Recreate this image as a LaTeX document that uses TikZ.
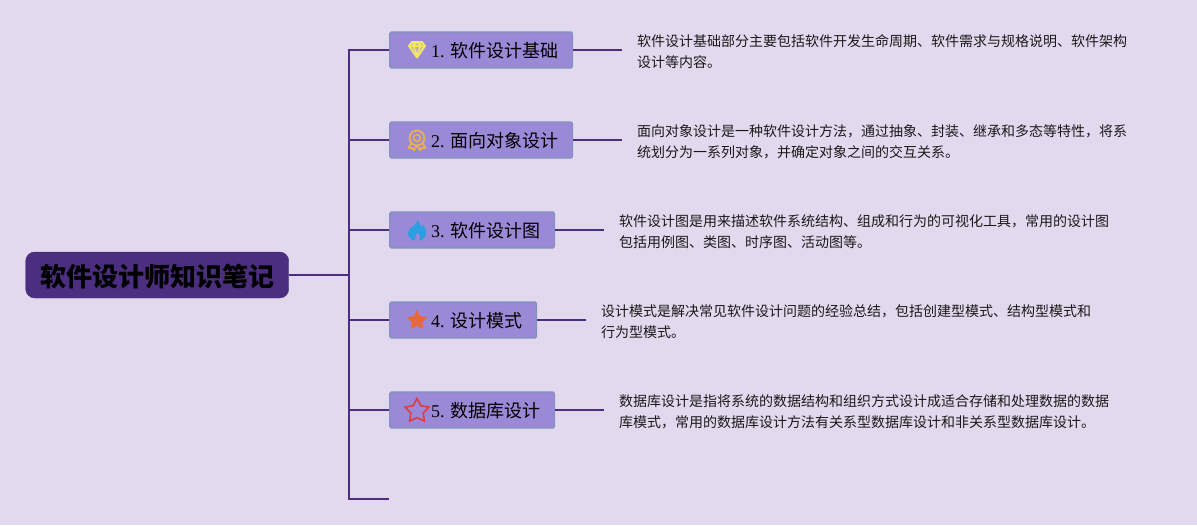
\documentclass[tikz,border=0pt]{standalone}
\usepackage{fontspec}
\setmainfont{Liberation Serif}
\newfontfamily\cjk{Noto Sans CJK SC}
\usetikzlibrary{shapes.geometric}
\definecolor{bgcol}{HTML}{E3D9EE}
\definecolor{linecol}{HTML}{4C2E80}
\definecolor{boxcol}{HTML}{9A89D6}
\definecolor{boxedge}{HTML}{7F93BC}
\definecolor{gemcol}{HTML}{F4E768}
\definecolor{awardcol}{HTML}{E9AE55}
\definecolor{flamecol}{HTML}{2A9FE2}
\definecolor{starcol}{HTML}{E9683A}
\definecolor{redcol}{HTML}{E23B3B}
\tikzset{
    rootbox/.style={rectangle,rounded corners=9pt,fill=linecol,draw=linecol,minimum width=263pt,minimum height=46pt,inner sep=0pt,anchor=west,text height=25pt,text depth=2pt,font=\cjk\bfseries\fontsize{26}{30}\selectfont},
    branchbox/.style={rectangle,rounded corners=1.5pt,fill=boxcol,draw=boxedge,line width=1.2pt,minimum height=36pt,inner xsep=14pt,inner ysep=0pt,anchor=west,text height=16pt,text depth=2pt,font=\fontsize{18}{22}\selectfont},
    desc/.style={anchor=west,align=left,inner sep=0pt,font=\cjk\fontsize{14}{21}\selectfont,text=black!90},
    conn/.style={line width=1.6pt,color=linecol},
}
\begin{document}
\begin{tikzpicture}[x=1pt,y=-1pt]
    \useasboundingbox[fill=bgcol] (0,0) rectangle (1197,525);
    % root and trunk
    \node[rootbox] (root) at (25.5,275) {软件设计师知识笔记};
    \coordinate (t0) at (349,275);
    \coordinate (t1) at (349,50);
    \coordinate (t2) at (349,140);
    \coordinate (t3) at (349,230);
    \coordinate (t4) at (349,320);
    \coordinate (t5) at (349,410);
    \coordinate (t6) at (349,499);
    \coordinate (stub) at (389,499);
    \draw[conn] (root.east) -- (t0);
    \draw[conn,line cap=rect] (t1) -- (t6);
    \draw[conn] (t6) -- (stub);
    % branches
    \node[branchbox] (b1) at (389,50) {\hspace*{27.5pt}1. {\cjk 软件设计基础}};
    \node[branchbox] (b2) at (389,140) {\hspace*{27.5pt}2. {\cjk 面向对象设计}};
    \node[branchbox] (b3) at (389,230) {\hspace*{27.5pt}3. {\cjk 软件设计图}};
    \node[branchbox] (b4) at (389,320) {\hspace*{27.5pt}4. {\cjk 设计模式}};
    \node[branchbox] (b5) at (389,410) {\hspace*{27.5pt}5. {\cjk 数据库设计}};
    \draw[conn] (t1) -- (b1);
    \draw[conn] (t2) -- (b2);
    \draw[conn] (t3) -- (b3);
    \draw[conn] (t4) -- (b4);
    \draw[conn] (t5) -- (b5);
    % descriptions
    \node[desc] (d1) at (637,52) {软件设计基础部分主要包括软件开发生命周期、软件需求与规格说明、软件架构\\设计等内容。};
    \node[desc] (d2) at (637,142) {面向对象设计是一种软件设计方法，通过抽象、封装、继承和多态等特性，将系\\统划分为一系列对象，并确定对象之间的交互关系。};
    \node[desc] (d3) at (619,232) {软件设计图是用来描述软件系统结构、组成和行为的可视化工具，常用的设计图\\包括用例图、类图、时序图、活动图等。};
    \node[desc] (d4) at (601,322) {设计模式是解决常见软件设计问题的经验总结，包括创建型模式、结构型模式和\\行为型模式。};
    \node[desc] (d5) at (619,412) {数据库设计是指将系统的数据结构和组织方式设计成适合存储和处理数据的数据\\库模式，常用的数据库设计方法有关系型数据库设计和非关系型数据库设计。};
    \coordinate (e1) at (622,50);
    \coordinate (e2) at (622,140);
    \coordinate (e3) at (604,230);
    \coordinate (e4) at (586,320);
    \coordinate (e5) at (604,410);
    \draw[conn] (b1) -- (e1);
    \draw[conn] (b2) -- (e2);
    \draw[conn] (b3) -- (e3);
    \draw[conn] (b4) -- (e4);
    \draw[conn] (b5) -- (e5);
    % icons
    \begin{scope}[shift={(417,49.5)}]
        \draw[gemcol,line width=1.9pt,line join=round,fill=gemcol!45!boxcol] (-8,-3.5) -- (-5,-7.5) -- (5,-7.5) -- (8,-3.5) -- (0,8) -- cycle;
        \draw[gemcol,line width=1.5pt] (-8,-3.5) -- (8,-3.5) (-3.5,-7.5) -- (-3.5,-3.5) -- (0,6) -- (3.5,-3.5) -- (3.5,-7.5) (0,-7.5) -- (-3.5,-3.5) (0,-7.5) -- (3.5,-3.5);
    \end{scope}
    \begin{scope}[shift={(417,140)}]
        \draw[awardcol,line width=1.9pt,line join=round] (-5,2) -- (-8.5,8) -- (-5,8) -- (-3,10) -- (-0.5,6) (5,2) -- (8.5,8) -- (5,8) -- (3,10) -- (0.5,6);
        \draw[awardcol,line width=1.9pt,fill=boxcol] (0,-2) circle (7.5pt);
        \draw[awardcol,line width=1.6pt] (0,-2) circle (3.5pt);
    \end{scope}
    \begin{scope}[shift={(417,230)}]
        \fill[flamecol] (1,-10.5) .. controls (1.5,-6) and (4.5,-4.5) .. (5.5,-2.5) .. controls (6.2,-3.2) and (6.5,-4.5) .. (6.5,-5.5) .. controls (8.5,-3) and (9,0) .. (9,3) .. controls (9,7) and (6,10) .. (2,10.5) .. controls (4,7.5) and (3,4.5) .. (0.3,2.5) .. controls (0,5) and (-3,7) .. (-2,10.5) .. controls (-6,10) and (-9,7) .. (-9,3) .. controls (-9,-3) and (0,-4) .. (1,-10.5) -- cycle;
    \end{scope}
    \node[star,star points=5,star point ratio=1.95,fill=starcol,inner sep=0pt,minimum size=21pt] (s4) at (417,320.5) {};
    \node[star,star points=5,star point ratio=1.9,draw=redcol,line width=1.6pt,inner sep=0pt,minimum size=25pt] (s5) at (417,411) {};
\end{tikzpicture}
\end{document}
